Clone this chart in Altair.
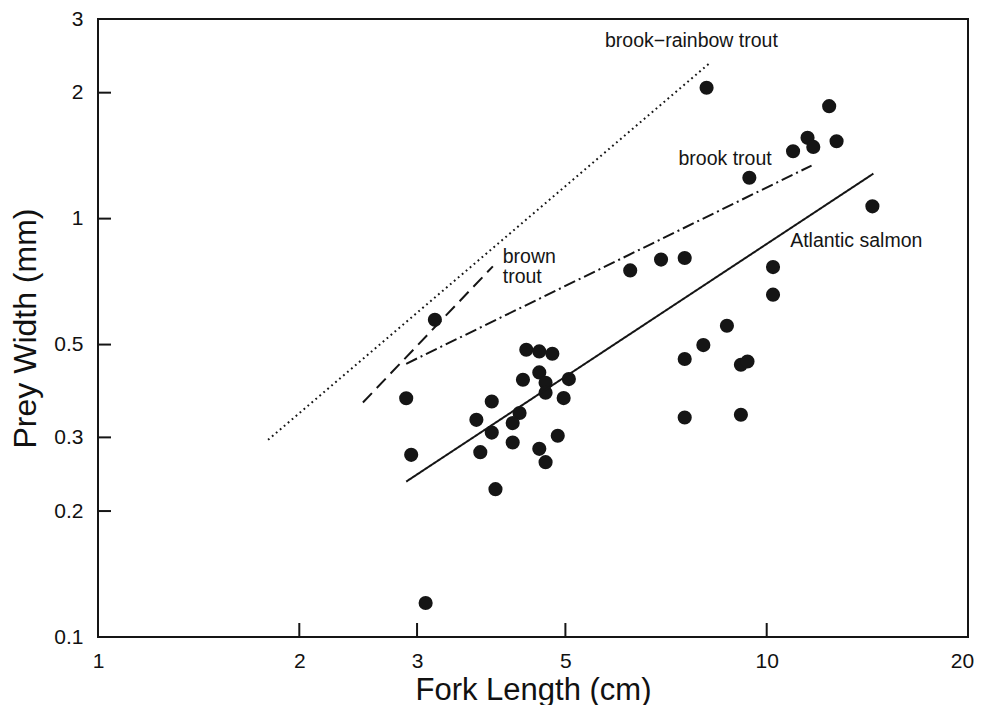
import altair as alt
import pandas as pd

FONT = "Liberation Sans, Arial, Helvetica, sans-serif"

# Scatter data
fork_length = [3.19, 2.89, 2.94, 3.09, 4.37, 4.57, 4.78, 4.32, 4.57, 4.67, 4.67, 5.06,
               4.97, 3.88, 3.68, 4.27, 4.17, 3.88, 4.17, 3.73, 4.57, 4.67, 4.87, 3.93,
               8.13, 12.40, 11.51, 11.74, 12.72, 10.95, 9.42, 14.39, 6.25, 6.95, 7.54,
               10.22, 10.22, 8.72, 8.04, 7.54, 9.15, 9.36, 7.54, 9.15]
prey_width = [0.573, 0.372, 0.2725, 0.1206, 0.486, 0.4816, 0.4753, 0.412, 0.429, 0.405,
              0.3835, 0.4135, 0.3724, 0.3655, 0.3304, 0.343, 0.3245, 0.308, 0.2916,
              0.2766, 0.2817, 0.2618, 0.3027, 0.2256, 2.055, 1.857, 1.56, 1.484, 1.531,
              1.449, 1.252, 1.07, 0.752, 0.798, 0.805, 0.766, 0.658, 0.5546, 0.4986,
              0.4618, 0.4474, 0.4556, 0.3347, 0.3398]

# Regression lines (start/end)
line_species = ["brook−rainbow trout", "brown trout", "brook trout", "Atlantic salmon"]
line_x_start = [1.796, 2.49, 2.89, 2.89]
line_x_end = [8.19, 3.895, 11.67, 14.44]
line_y_start = [0.296, 0.3635, 0.4498, 0.2352]
line_y_end = [2.343, 0.769, 1.339, 1.281]
line_dash = [[1.8, 3.4], [13, 7], [12, 4, 2, 4], [1, 0]]

# Annotations
label_text = ["brook−rainbow trout", "brook trout", "Atlantic salmon", "brown", "trout"]
label_x = [5.73, 7.38, 10.84, 4.03, 4.03]
label_y = [2.566, 1.346, 0.857, 0.785, 0.703]

# Axis ticks
x_tick_labels = [1, 2, 3, 5, 10, 20]
y_tick_labels = [0.1, 0.2, 0.3, 0.5, 1, 2, 3]
x_inner_ticks = [2, 3, 5, 10]
y_inner_ticks = [0.2, 0.3, 0.5, 1, 2]

W, H = 870, 618

xscale = alt.Scale(type="log", domain=[1, 20], nice=False)
yscale = alt.Scale(type="log", domain=[0.1, 3], nice=False)

pts = pd.DataFrame({"x": fork_length, "y": prey_width})

xaxis = alt.Axis(title="Fork Length (cm)", values=x_tick_labels, format="~g",
                 ticks=False, domain=False, grid=False, labelFlush=False,
                 labelOffset={"condition": {"test": "datum.value == 20", "value": -6}, "value": 0},
                 labelPadding=13, labelFontSize=21, labelFont=FONT, labelColor="#111",
                 titleFontSize=31, titleFont=FONT, titleFontWeight="normal",
                 titleColor="#111", titleBaseline="alphabetic", titleY=62)
yaxis = alt.Axis(title="Prey Width (mm)", values=y_tick_labels, format="~g",
                 ticks=False, domain=False, grid=False, labelFlush=False,
                 labelPadding=15, labelFontSize=21, labelFont=FONT, labelColor="#111",
                 titleFontSize=32, titleFont=FONT, titleFontWeight="normal",
                 titleColor="#111", titleBaseline="alphabetic", titleX=-63)

points = alt.Chart(pts).mark_circle(size=200, color="#151515", opacity=1).encode(
    x=alt.X("x:Q", scale=xscale, axis=xaxis),
    y=alt.Y("y:Q", scale=yscale, axis=yaxis),
)

layers = [points]
for i in range(len(line_species)):
    df = pd.DataFrame({"x": [line_x_start[i]], "x2": [line_x_end[i]],
                       "y": [line_y_start[i]], "y2": [line_y_end[i]]})
    layers.append(
        alt.Chart(df).mark_rule(color="#151515", strokeWidth=2,
                                strokeDash=line_dash[i]).encode(
            x=alt.X("x:Q", scale=xscale), x2="x2:Q",
            y=alt.Y("y:Q", scale=yscale), y2="y2:Q")
    )

labels = alt.Chart(pd.DataFrame({"t": label_text, "x": label_x, "y": label_y})).mark_text(
    align="left", baseline="alphabetic", fontSize=19.5, font=FONT, color="#151515"
).encode(x=alt.X("x:Q", scale=xscale), y=alt.Y("y:Q", scale=yscale), text="t:N")
layers.append(labels)

xt = alt.Chart(pd.DataFrame({"x": x_inner_ticks})).mark_rule(color="#151515", strokeWidth=2).encode(
    x=alt.X("x:Q", scale=xscale), y=alt.value(H), y2=alt.value(H - 14))
yt = alt.Chart(pd.DataFrame({"y": y_inner_ticks})).mark_rule(color="#151515", strokeWidth=2).encode(
    y=alt.Y("y:Q", scale=yscale), x=alt.value(0), x2=alt.value(13))
layers += [xt, yt]

chart = alt.layer(*layers).properties(
    width=W, height=H,
    background="white",
    autosize=alt.AutoSizeParams(type="none"),
    padding={"left": 90, "top": 11, "right": 6, "bottom": 68},
).configure_view(stroke="#151515", strokeWidth=2)

chart.save("out.html", embed_options={"renderer": "svg", "actions": False})
